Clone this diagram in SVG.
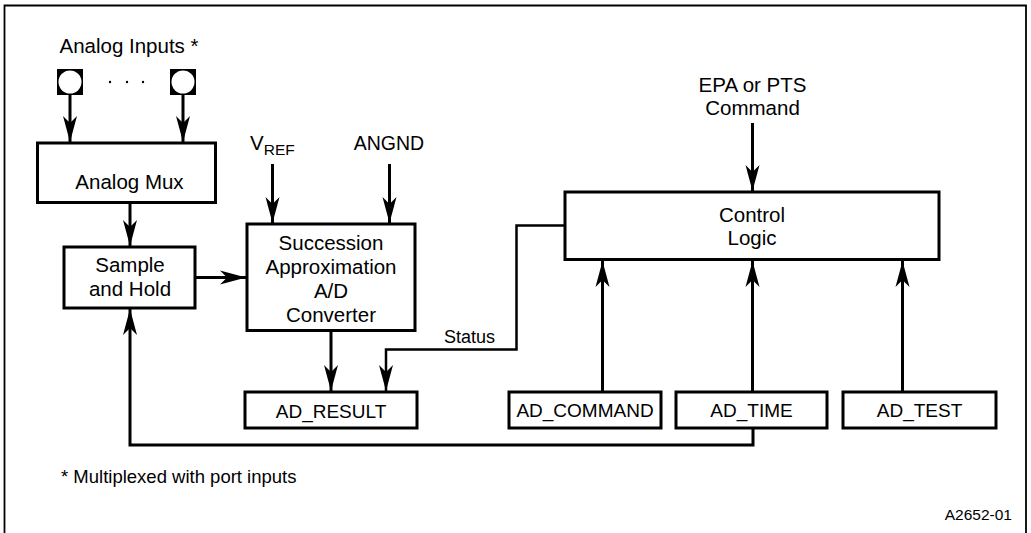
<svg xmlns="http://www.w3.org/2000/svg" width="1031" height="533" viewBox="0 0 1031 533">
<style>
text{font-family:"Liberation Sans",Arial,sans-serif;fill:#000}
.t{font-size:20.5px;text-anchor:middle}
.u{font-size:19px;text-anchor:middle}
.box{fill:#fff;stroke:#000;stroke-width:3}
.ln{fill:none;stroke:#000;stroke-width:3}
.thin{fill:none;stroke:#000;stroke-width:2.5}
</style>
<defs>
<marker id="ah" viewBox="-27 -8 28 16" refX="0" refY="0" markerWidth="28" markerHeight="16" markerUnits="userSpaceOnUse" orient="auto">
<path d="M0,0 L-26,-7 L-19,0 L-26,7 Z" fill="#000"/>
</marker>
</defs>
<rect width="1031" height="533" fill="#fff"/>
<path d="M4.5,533 V5.5 H1026 V533" fill="none" stroke="#000" stroke-width="1.8"/>

<g id="connectors">
<line class="ln" x1="70" y1="95" x2="70" y2="142" marker-end="url(#ah)"/>
<line class="ln" x1="183" y1="95" x2="183" y2="142" marker-end="url(#ah)"/>
<line class="ln" x1="130" y1="203" x2="130" y2="246" marker-end="url(#ah)"/>
<line class="ln" x1="196" y1="277.5" x2="246" y2="277.5" marker-end="url(#ah)"/>
<line class="ln" x1="272.5" y1="164" x2="272.5" y2="223" marker-end="url(#ah)"/>
<line class="ln" x1="389.5" y1="164" x2="389.5" y2="223" marker-end="url(#ah)"/>
<line class="ln" x1="331" y1="331" x2="331" y2="391" marker-end="url(#ah)"/>
<path class="thin" d="M564,225.5 H516.5 V349.5 H386 V391" marker-end="url(#ah)"/>
<line class="ln" x1="752.5" y1="123" x2="752.5" y2="191" marker-end="url(#ah)"/>
<line class="ln" x1="602.5" y1="391" x2="602.5" y2="261" marker-end="url(#ah)"/>
<line class="ln" x1="752.5" y1="391" x2="752.5" y2="261" marker-end="url(#ah)"/>
<line class="ln" x1="902.5" y1="391" x2="902.5" y2="261" marker-end="url(#ah)"/>
<path class="ln" d="M753,429 V445 H130 V309" marker-end="url(#ah)"/>
</g>

<g id="analog-inputs">
<text class="t" x="129" y="53">Analog Inputs *</text>
<rect x="57" y="69" width="26" height="26" fill="#000"/>
<circle cx="70" cy="82" r="11.5" fill="#fff"/>
<rect x="170" y="69" width="26" height="26" fill="#000"/>
<circle cx="183" cy="82" r="11.5" fill="#fff"/>
<circle cx="110" cy="82" r="1.2" fill="#000"/>
<circle cx="127" cy="82" r="1.2" fill="#000"/>
<circle cx="143" cy="82" r="1.2" fill="#000"/>
</g>

<g id="analog-mux">
<rect class="box" x="37.5" y="143" width="178" height="59.5"/>
<text class="t" x="129.5" y="188.5">Analog Mux</text>
</g>

<g id="sample-hold">
<rect class="box" x="64" y="247" width="131" height="61"/>
<text class="t" x="130" y="272">Sample</text>
<text class="t" x="130" y="296">and Hold</text>
</g>

<g id="vref">
<text x="250" y="150" style="font-size:20.5px">V<tspan dy="5" style="font-size:15.5px">REF</tspan></text>
</g>

<g id="angnd">
<text class="u" x="389" y="150" style="font-size:19.5px">ANGND</text>
</g>

<g id="sa-converter">
<rect class="box" x="247" y="224" width="168" height="106.5"/>
<text class="t" x="331" y="250">Succession</text>
<text class="t" x="331" y="274">Approximation</text>
<text class="t" x="331" y="298">A/D</text>
<text class="t" x="331" y="322">Converter</text>
</g>

<g id="status-label">
<text x="444" y="342.7" style="font-size:18px">Status</text>
</g>

<g id="ad-result">
<rect class="box" x="245" y="392" width="172" height="36"/>
<text class="u" x="331" y="417.5">AD_RESULT</text>
</g>

<g id="epa-pts">
<text class="t" x="752.5" y="92.3">EPA or PTS</text>
<text class="t" x="752.5" y="115">Command</text>
</g>

<g id="control-logic">
<rect class="box" x="565" y="192" width="374" height="67.5"/>
<text class="t" x="752" y="221.7">Control</text>
<text class="t" x="752" y="244.5">Logic</text>
</g>

<g id="ad-command">
<rect class="box" x="509" y="392" width="152" height="36"/>
<text class="u" x="585" y="417.3">AD_COMMAND</text>
</g>

<g id="ad-time">
<rect class="box" x="676" y="392" width="151" height="36"/>
<text class="u" x="751.5" y="417.3">AD_TIME</text>
</g>

<g id="ad-test">
<rect class="box" x="843" y="392" width="153" height="36"/>
<text class="u" x="919.5" y="417.3">AD_TEST</text>
</g>

<g id="notes">
<text x="61" y="483.3" style="font-size:18.5px">* Multiplexed with port inputs</text>
<text x="1012" y="520" style="font-size:15.5px;text-anchor:end">A2652-01</text>
</g>
</svg>
